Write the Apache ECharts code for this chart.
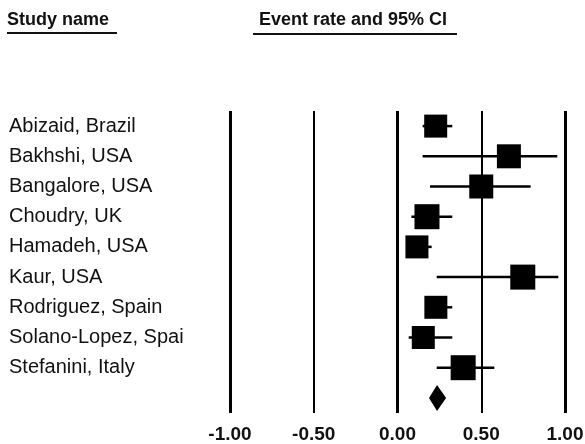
<!DOCTYPE html>
<html>
<head>
<meta charset="utf-8">
<script src="https://cdn.jsdelivr.net/npm/echarts@6/dist/echarts.min.js"></script>
<style>
  html, body { margin: 0; padding: 0; background: #fff; }
  #chart { width: 585px; height: 444px; }
</style>
</head>
<body>
<div id="chart"></div>
<script>
// forest plot - event rate and 95% CI
const studies = [
  "Abizaid, Brazil", "Bakhshi, USA", "Bangalore, USA", "Choudry, UK", "Hamadeh, USA",
  "Kaur, USA", "Rodriguez, Spain", "Solano-Lopez, Spain", "Stefanini, Italy"
];
const eventRate = [0.228, 0.665, 0.50, 0.176, 0.116, 0.748, 0.229, 0.154, 0.392];
const lowerCI = [0.15, 0.15, 0.194, 0.083, 0.06, 0.234, 0.17, 0.067, 0.234];
const upperCI = [0.327, 0.954, 0.795, 0.327, 0.204, 0.96, 0.327, 0.327, 0.578];
const boxSize = [23, 24, 24, 25, 23, 25, 23, 23, 25]; // weight of each study (px)
const summary = { rate: 0.236, lower: 0.188, upper: 0.29 };
const ticks = [-1, -0.5, 0, 0.5, 1];
const thickTicks = [-1, 0, 1];

const categories = studies.concat([""]);
const studyData = studies.map((s, i) => [lowerCI[i], upperCI[i], eventRate[i], i, boxSize[i]]);

const chart = echarts.init(document.getElementById("chart"));
const option = {
  animation: false,
  backgroundColor: "#fff",
  grid: { left: 230, right: 20, top: 111, bottom: 31, outerBoundsMode: "none" },
  xAxis: {
    type: "value",
    min: -1,
    max: 1,
    interval: 0.5,
    axisLine: { show: false },
    axisTick: { show: false },
    splitLine: { show: false },
    axisLabel: {
      margin: 12,
      fontFamily: "Liberation Sans, Arial",
      fontSize: 19,
      fontWeight: "bold",
      color: "#111",
      formatter: v => v.toFixed(2)
    }
  },
  yAxis: {
    type: "category",
    data: categories,
    inverse: true,
    axisLine: { show: false },
    axisTick: { show: false },
    splitLine: { show: false },
    axisLabel: {
      align: "left",
      margin: 221,
      width: 180,
      overflow: "truncate",
      ellipsis: "",
      fontFamily: "Liberation Sans, Arial",
      fontSize: 20,
      color: "#111"
    }
  },
  graphic: [
    { type: "text", left: 7, top: 11, style: { text: "Study name", fontFamily: "Liberation Sans, Arial", fontSize: 18, fontWeight: "bold", fill: "#111" } },
    { type: "line", shape: { x1: 7, y1: 33, x2: 117, y2: 33 }, style: { stroke: "#111", lineWidth: 2 } },
    { type: "text", left: 259, top: 11, style: { text: "Event rate and 95% CI", fontFamily: "Liberation Sans, Arial", fontSize: 18, fontWeight: "bold", fill: "#111" } },
    { type: "line", shape: { x1: 253, y1: 34, x2: 457, y2: 34 }, style: { stroke: "#111", lineWidth: 2 } }
  ],
  series: [
    {
      type: "custom",
      data: studyData,
      renderItem: (params, api) => {
        const lo = api.coord([api.value(0), api.value(3)]);
        const hi = api.coord([api.value(1), api.value(3)]);
        const c = api.coord([api.value(2), api.value(3)]);
        const s = api.value(4);
        return {
          type: "group",
          children: [
            { type: "line", shape: { x1: lo[0], y1: lo[1], x2: hi[0], y2: hi[1] }, style: { stroke: "#000", lineWidth: 2.5 } },
            { type: "rect", shape: { x: c[0] - s / 2, y: c[1] - s / 2, width: s, height: s }, style: { fill: "#000" } }
          ]
        };
      },
      markLine: {
        silent: true,
        symbol: "none",
        label: { show: false },
        data: ticks.map(t => ({
          xAxis: t,
          lineStyle: { color: "#000", type: "solid", width: thickTicks.includes(t) ? 3 : 2 }
        }))
      },
      z: 3
    },
    {
      type: "custom",
      data: [[summary.lower, summary.upper, summary.rate, studies.length]],
      renderItem: (params, api) => {
        const lo = api.coord([api.value(0), api.value(3)]);
        const hi = api.coord([api.value(1), api.value(3)]);
        const c = api.coord([api.value(2), api.value(3)]);
        const h = 13;
        return {
          type: "polygon",
          shape: { points: [[lo[0], c[1]], [c[0], c[1] - h], [hi[0], c[1]], [c[0], c[1] + h]] },
          style: { fill: "#000" }
        };
      },
      z: 3
    }
  ]
};
chart.setOption(option);
</script>
</body>
</html>
